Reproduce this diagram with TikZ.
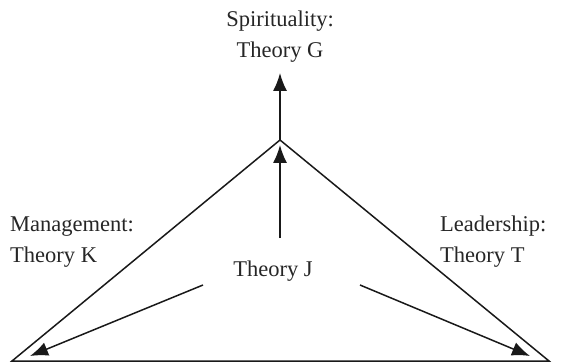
\documentclass[tikz,border=0pt]{standalone}
\usepackage{fontspec}
\setmainfont{Liberation Serif}
\usetikzlibrary{arrows.meta}
\begin{document}
\begin{tikzpicture}[x=1pt,y=-1pt,
  lbl/.style={font=\fontsize{22.5}{31}\selectfont, text=black!85, inner sep=0pt},
  edge/.style={line width=1.5pt, black!90},
  arr/.style={line width=1.5pt, black!90, -{Latex[length=18pt,width=14pt]}}]
\useasboundingbox (0,0) rectangle (561,363);
\coordinate (apex) at (280,140);
\coordinate (bl) at (12,361);
\coordinate (br) at (549,361);
\draw[edge, line join=miter] (bl) -- (apex) -- (br) -- cycle;
\coordinate (gtip) at (280,73);
\draw[arr] (apex) -- (gtip);
\node[lbl, align=center, anchor=base] (g) at (280,58) {Spirituality:\\Theory G};
\node[lbl, align=left, anchor=base west] (k) at (10,262) {Management:\\Theory K};
\node[lbl, align=left, anchor=base west] (t) at (440,262) {Leadership:\\Theory T};
\node[lbl, anchor=base] (j) at (273,276) {Theory J};
\coordinate (js) at (280,238);
\coordinate (jl) at (203,285);
\coordinate (jr) at (360,285);
\coordinate (lt) at (30,356);
\coordinate (rt) at (530,356);
\coordinate (at) at (280,145);
\draw[arr] (js) -- (at);
\draw[arr] (jl) -- (lt);
\draw[arr] (jr) -- (rt);
\end{tikzpicture}
\end{document}
